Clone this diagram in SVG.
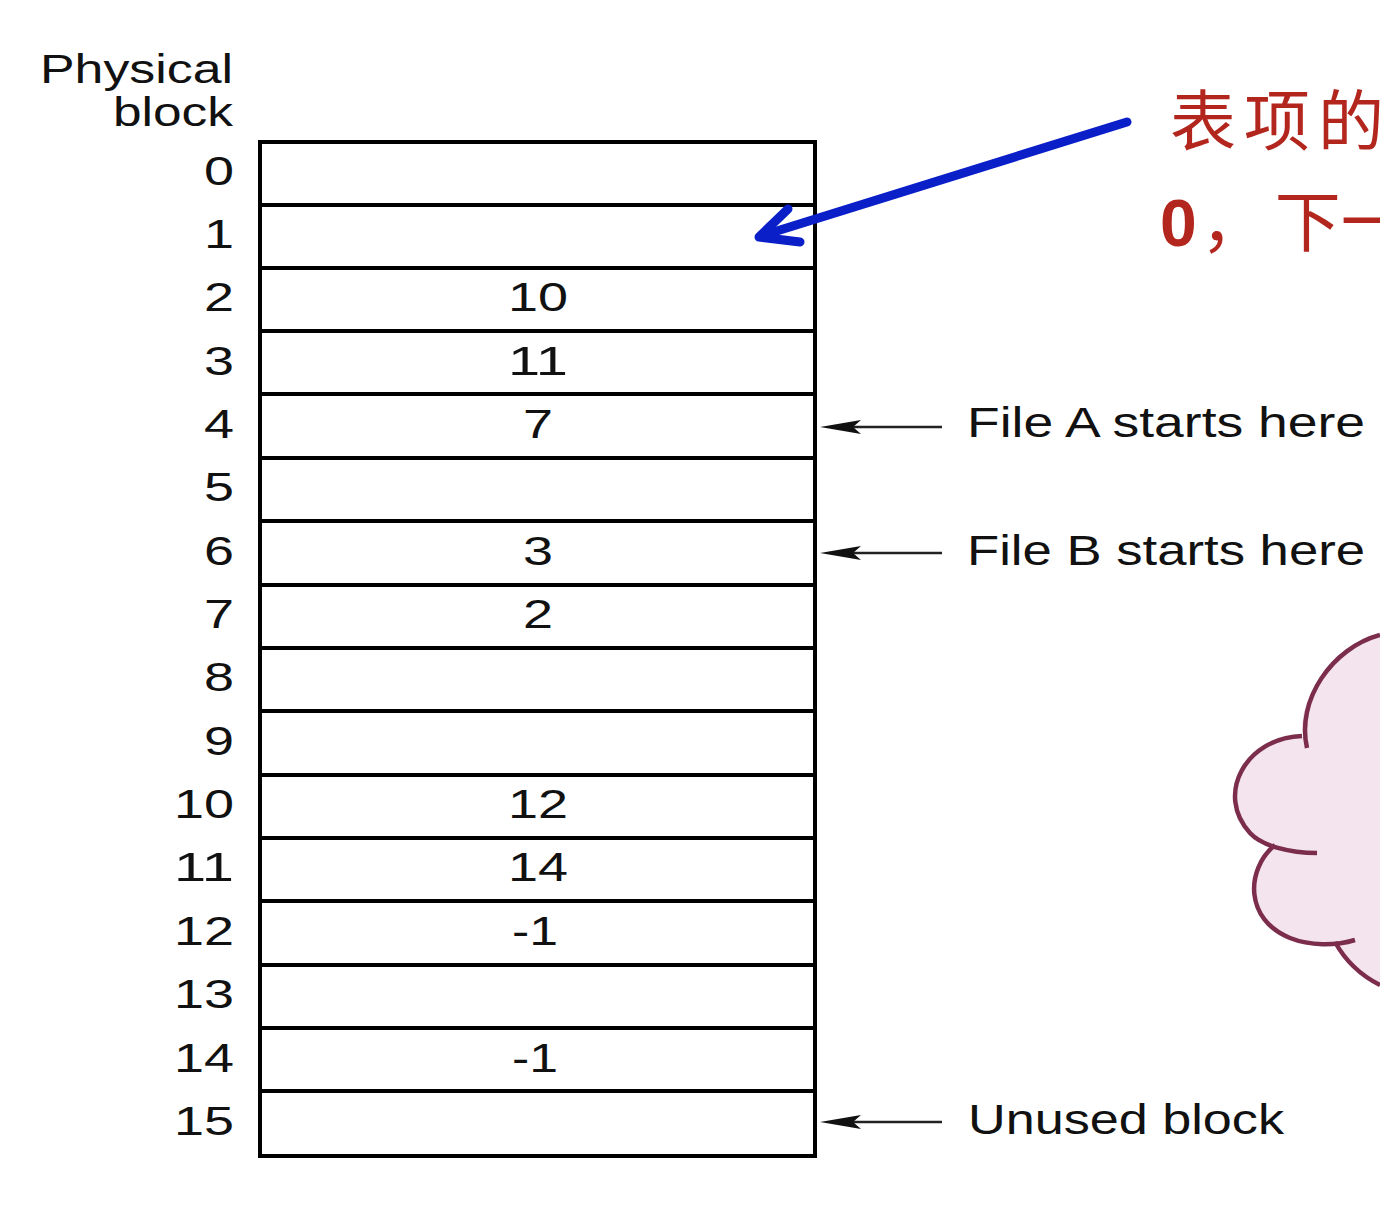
<svg xmlns="http://www.w3.org/2000/svg" width="1380" height="1226" viewBox="0 0 1380 1226">
<defs>
<style>
.lbl{font-family:"Liberation Sans",Arial,sans-serif;font-size:40px;fill:#111;}
.side{font-family:"Liberation Sans",Arial,sans-serif;font-size:42px;fill:#111;}
.grid{fill:none;stroke:#000;stroke-width:4;}
.ptr{stroke:#222;stroke-width:2.5;fill:none;}
.head{fill:#111;}
.cn{font-family:"Noto Sans CJK SC",sans-serif;fill:#b3261e;}
</style>
</defs>
<rect width="1380" height="1226" fill="#fff"/>

<g id="cloud">
<path d="M1380,635 C1332,648 1296,700 1303,737 C1245,738 1215,795 1250,833 C1258,840 1266,844 1275,845 C1245,870 1245,920 1290,938 C1305,944 1320,944 1335,942 C1345,960 1360,975 1380,985 Z" fill="#f3e4ee"/>
<g fill="none" stroke="#7b2d4b" stroke-width="4.5">
<path d="M1380,635 C1332,648 1296,700 1307,748"/>
<path d="M1302,736 C1245,738 1215,795 1250,833 C1262,846 1290,853 1317,853"/>
<path d="M1275,845 C1245,870 1245,920 1290,938 C1310,946 1335,946 1355,940"/>
<path d="M1335,942 C1345,960 1360,975 1380,985"/>
</g>
</g>

<g id="header">
<text class="lbl" x="40" y="83" textLength="193" lengthAdjust="spacingAndGlyphs">Physical</text>
<text class="lbl" x="113" y="126" textLength="120" lengthAdjust="spacingAndGlyphs">block</text>
</g>

<g id="table">
<rect class="grid" x="260" y="142" width="555" height="1014"/>
<path class="grid" d="M260,205H815M260,268H815M260,331H815M260,394H815M260,458H815M260,521H815M260,585H815M260,648H815M260,711H815M260,775H815M260,838H815M260,901H815M260,965H815M260,1028H815M260,1091H815"/>
</g>

<g id="row-labels">
<text class="lbl" x="204" y="185" textLength="30" lengthAdjust="spacingAndGlyphs">0</text>
<text class="lbl" x="204" y="248" textLength="30" lengthAdjust="spacingAndGlyphs">1</text>
<text class="lbl" x="204" y="311" textLength="30" lengthAdjust="spacingAndGlyphs">2</text>
<text class="lbl" x="204" y="375" textLength="30" lengthAdjust="spacingAndGlyphs">3</text>
<text class="lbl" x="204" y="438" textLength="30" lengthAdjust="spacingAndGlyphs">4</text>
<text class="lbl" x="204" y="501" textLength="30" lengthAdjust="spacingAndGlyphs">5</text>
<text class="lbl" x="204" y="565" textLength="30" lengthAdjust="spacingAndGlyphs">6</text>
<text class="lbl" x="204" y="628" textLength="30" lengthAdjust="spacingAndGlyphs">7</text>
<text class="lbl" x="204" y="691" textLength="30" lengthAdjust="spacingAndGlyphs">8</text>
<text class="lbl" x="204" y="755" textLength="30" lengthAdjust="spacingAndGlyphs">9</text>
<text class="lbl" x="174" y="818" textLength="60" lengthAdjust="spacingAndGlyphs">10</text>
<text class="lbl" x="174" y="881" textLength="60" lengthAdjust="spacingAndGlyphs">11</text>
<text class="lbl" x="174" y="945" textLength="60" lengthAdjust="spacingAndGlyphs">12</text>
<text class="lbl" x="174" y="1008" textLength="60" lengthAdjust="spacingAndGlyphs">13</text>
<text class="lbl" x="174" y="1072" textLength="60" lengthAdjust="spacingAndGlyphs">14</text>
<text class="lbl" x="174" y="1135" textLength="60" lengthAdjust="spacingAndGlyphs">15</text>
</g>

<g id="cell-values">
<text class="lbl" x="508" y="311" textLength="60" lengthAdjust="spacingAndGlyphs">10</text>
<text class="lbl" x="508" y="375" textLength="60" lengthAdjust="spacingAndGlyphs">11</text>
<text class="lbl" x="523" y="438" textLength="30" lengthAdjust="spacingAndGlyphs">7</text>
<text class="lbl" x="523" y="565" textLength="30" lengthAdjust="spacingAndGlyphs">3</text>
<text class="lbl" x="523" y="628" textLength="30" lengthAdjust="spacingAndGlyphs">2</text>
<text class="lbl" x="508" y="818" textLength="60" lengthAdjust="spacingAndGlyphs">12</text>
<text class="lbl" x="508" y="881" textLength="60" lengthAdjust="spacingAndGlyphs">14</text>
<text class="lbl" x="512" y="945" textLength="46" lengthAdjust="spacingAndGlyphs">-1</text>
<text class="lbl" x="512" y="1072" textLength="46" lengthAdjust="spacingAndGlyphs">-1</text>
</g>

<g id="connectors">
<line class="ptr" x1="852" y1="427" x2="942" y2="427"/>
<path class="head" d="M820,427 L861,420 L853,427 L861,434 Z"/>
<line class="ptr" x1="852" y1="553" x2="942" y2="553"/>
<path class="head" d="M820,553 L861,546 L853,553 L861,560 Z"/>
<line class="ptr" x1="852" y1="1122" x2="942" y2="1122"/>
<path class="head" d="M820,1122 L861,1115 L853,1122 L861,1129 Z"/>
<g fill="none" stroke="#0a1fc8" stroke-width="9" stroke-linecap="round" stroke-linejoin="round">
<line x1="1127" y1="122" x2="764" y2="235"/>
<path d="M788,209 L759,237 L800,242"/>
</g>
</g>

<g id="side-labels">
<text class="side" x="967" y="437" textLength="398" lengthAdjust="spacingAndGlyphs">File A starts here</text>
<text class="side" x="967" y="565" textLength="398" lengthAdjust="spacingAndGlyphs">File B starts here</text>
<text class="side" x="968" y="1134" textLength="316" lengthAdjust="spacingAndGlyphs">Unused block</text>
</g>

<g id="note">
<text class="cn" x="1170" y="145" font-size="66" letter-spacing="8">表项的</text>
<text class="cn" x="1160" y="246" font-size="66"><tspan font-family="Liberation Sans, Arial, sans-serif" font-weight="bold">0</tspan><tspan dx="4">，</tspan><tspan dx="8">下一</tspan></text>
</g>
</svg>
